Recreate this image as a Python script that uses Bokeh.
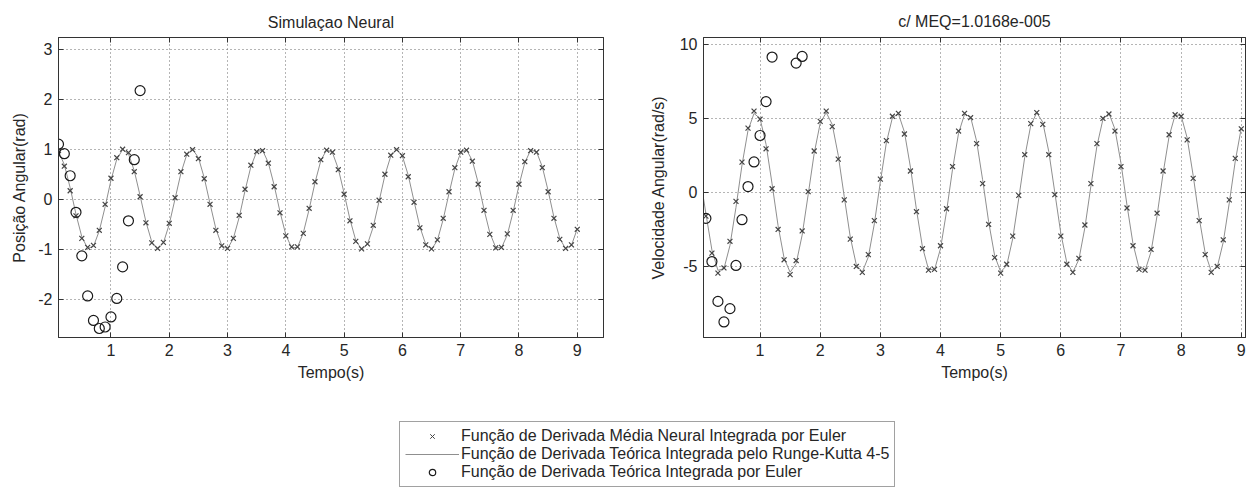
from bokeh.plotting import figure
from bokeh.models import Range1d, FixedTicker, LinearAxis, Legend, LegendItem
from bokeh.layouts import column, row
from bokeh.embed import file_html
from bokeh.resources import INLINE

# ---------------- data ----------------
t = [round(0.1 * i, 1) for i in range(1, 91)]          # sampling instants 0.1 .. 9.0 s
t_rk = [0.06] + t                                      # Runge-Kutta curve starts a bit earlier
t_euler_pos = [0.1, 0.2, 0.3, 0.4, 0.5, 0.6, 0.7, 0.8, 0.9, 1.0, 1.1, 1.2, 1.3, 1.4, 1.5]
t_euler_vel = [0.1, 0.2, 0.3, 0.4, 0.5, 0.6, 0.7, 0.8, 0.9, 1.0, 1.1, 1.2, 1.6, 1.7]

pos_rk = [1.00,
    0.96, 0.69, 0.23, -0.30, -0.75, -0.98, -0.94, -0.63, -0.15, 0.38,
    0.80, 0.99, 0.91, 0.57, 0.07, -0.45, -0.85, -1.00, -0.87, -0.50,
    0.01, 0.52, 0.89, 1.00, 0.83, 0.43, -0.09, -0.59, -0.92, -0.99,
    -0.78, -0.36, 0.17, 0.65, 0.95, 0.98, 0.73, 0.28, -0.25, -0.71,
    -0.97, -0.96, -0.67, -0.20, 0.33, 0.77, 0.99, 0.93, 0.61, 0.12,
    -0.40, -0.82, -1.00, -0.90, -0.55, -0.04, 0.48, 0.86, 1.00, 0.86,
    0.48, -0.04, -0.55, -0.90, -1.00, -0.82, -0.40, 0.12, 0.61, 0.93,
    0.99, 0.77, 0.33, -0.20, -0.67, -0.96, -0.97, -0.71, -0.25, 0.28,
    0.73, 0.98, 0.95, 0.65, 0.17, -0.36, -0.78, -0.99, -0.92, -0.59]

pos_neural = [
    0.97, 0.66, 0.17, -0.33, -0.78, -0.96, -0.92, -0.62, -0.10, 0.42,
    0.83, 1.00, 0.93, 0.55, 0.05, -0.47, -0.87, -0.98, -0.86, -0.48,
    0.03, 0.55, 0.90, 0.99, 0.81, 0.41, -0.10, -0.62, -0.93, -0.98,
    -0.78, -0.32, 0.20, 0.68, 0.95, 0.97, 0.72, 0.25, -0.27, -0.73,
    -0.95, -0.95, -0.68, -0.18, 0.35, 0.79, 0.98, 0.94, 0.59, 0.10,
    -0.43, -0.84, -0.99, -0.89, -0.52, -0.02, 0.50, 0.88, 0.99, 0.87,
    0.45, -0.06, -0.57, -0.91, -0.99, -0.81, -0.38, 0.15, 0.63, 0.94,
    0.98, 0.76, 0.30, -0.22, -0.70, -0.97, -0.96, -0.69, -0.22, 0.30,
    0.75, 0.97, 0.94, 0.63, 0.15, -0.38, -0.80, -0.98, -0.91, -0.60]

pos_euler = [1.10, 0.91, 0.47, -0.26, -1.13, -1.93, -2.42, -2.58, -2.55, -2.35,
             -1.98, -1.35, -0.43, 0.79, 2.17]

vel_rk = [-0.40,
    -1.43, -3.89, -5.26, -5.15, -3.58, -1.01, 1.85, 4.19, 5.34, 5.00,
    3.25, 0.58, -2.25, -4.44, -5.39, -4.81, -2.88, -0.15, 2.64, 4.68,
    5.40, 4.60, 2.51, -0.29, -3.01, -4.88, -5.38, -4.36, -2.12, 0.72,
    3.36, 5.05, 5.32, 4.09, 1.71, -1.15, -3.69, -5.19, -5.23, -3.79,
    -1.29, 1.57, 4.00, 5.29, 5.10, 3.47, 0.86, -1.98, -4.27, -5.36,
    -4.94, -3.13, -0.43, 2.38, 4.53, 5.39, 4.75, 2.76, 0.00, -2.76,
    -4.75, -5.39, -4.53, -2.38, 0.43, 3.13, 4.94, 5.36, 4.27, 1.98,
    -0.86, -3.47, -5.10, -5.29, -4.00, -1.57, 1.29, 3.79, 5.23, 5.19,
    3.69, 1.15, -1.71, -4.09, -5.32, -5.05, -3.36, -0.72, 2.12, 4.36]

vel_neural = [
    -1.60, -4.10, -5.45, -5.10, -3.30, -0.60, 2.05, 4.35, 5.50, 4.95,
    2.95, 0.25, -2.50, -4.55, -5.55, -4.60, -2.60, 0.05, 2.80, 4.80,
    5.50, 4.45, 2.25, -0.50, -3.15, -5.00, -5.40, -4.20, -1.90, 0.90,
    3.50, 5.15, 5.35, 3.95, 1.45, -1.30, -3.80, -5.25, -5.20, -3.60,
    -1.10, 1.75, 4.15, 5.35, 5.05, 3.30, 0.60, -2.15, -4.40, -5.45,
    -4.85, -2.95, -0.20, 2.55, 4.65, 5.40, 4.60, 2.55, -0.15, -2.95,
    -4.85, -5.40, -4.45, -2.20, 0.60, 3.30, 5.00, 5.30, 4.15, 1.75,
    -1.05, -3.60, -5.20, -5.25, -3.85, -1.40, 1.45, 3.90, 5.25, 5.15,
    3.55, 0.95, -1.90, -4.20, -5.40, -5.00, -3.20, -0.50, 2.30, 4.30]

vel_euler = [-1.75, -4.67, -7.36, -8.75, -7.85, -4.93, -1.84, 0.40, 2.06, 3.85,
             6.14, 9.15, 8.74, 9.19]

x_ticks = [1, 2, 3, 4, 5, 6, 7, 8, 9]
pos_ticks = [-2, -1, 0, 1, 2, 3]
pos_tick_labels = ["-2", "-1", "0", "1", "2", "3"]
vel_ticks = [-5, 0, 5, 10]
vel_tick_labels = ["-5", "0", "5", "10"]

title_left = "Simulaçao Neural"
title_right = "c/ MEQ=1.0168e-005"
xlabel = "Tempo(s)"
ylabel_left = "Posição Angular(rad)"
ylabel_right = "Velocidade Angular(rad/s)"
legend_labels = ["Função de Derivada Média Neural Integrada por Euler",
                 "Função de Derivada Teórica Integrada pelo Runge-Kutta 4-5",
                 "Função de Derivada Teórica Integrada por Euler"]

# ---------------- style ----------------
FONT = "Liberation Sans"
FS = "16px"
TXT = "#262626"
AX = "#333333"
GRID = "#6a6a6a"
XMARK = "#454545"
LINEC = "#8f8f8f"


def style_axis(ax, ticks, labels=True, tick_labels=None):
    ax.ticker = FixedTicker(ticks=ticks)
    ax.major_tick_in = 5
    ax.major_tick_out = 0
    ax.minor_tick_line_color = None
    ax.major_tick_line_color = AX
    ax.axis_line_color = AX
    if labels:
        ax.major_label_text_font = FONT
        ax.major_label_text_font_size = FS
        ax.major_label_text_color = TXT
        ax.major_label_standoff = 6
        ax.axis_label_text_font = FONT
        ax.axis_label_text_font_size = FS
        ax.axis_label_text_font_style = "normal"
        ax.axis_label_text_color = TXT
        if tick_labels is not None:
            ax.major_label_overrides = {tk: lb for tk, lb in zip(ticks, tick_labels)}
    else:
        ax.major_label_text_font_size = "0px"
        ax.major_label_text_color = None
        ax.major_label_standoff = 0


def make_panel(width, xr, yr, yticks, ylabels, mbl, mbr, mbt, mbb, title, title_standoff,
               ylabel, ylab_standoff, tx, y_n, t2, y_rk, te, y_e):
    p = figure(width=width, height=387, x_range=Range1d(*xr), y_range=Range1d(*yr),
               output_backend="svg", toolbar_location=None,
               min_border_left=mbl, min_border_right=mbr,
               min_border_top=mbt, min_border_bottom=mbb)
    p.background_fill_color = "white"
    p.border_fill_color = "white"
    p.outline_line_color = AX
    p.title.text = title
    p.title.align = "center"
    p.title.text_font = FONT
    p.title.text_font_size = FS
    p.title.text_font_style = "normal"
    p.title.text_color = TXT
    p.title.standoff = title_standoff

    style_axis(p.xaxis[0], x_ticks)
    style_axis(p.yaxis[0], yticks, tick_labels=ylabels)
    p.xaxis[0].axis_label = xlabel
    p.xaxis[0].axis_label_standoff = 5
    p.yaxis[0].axis_label = ylabel
    p.yaxis[0].axis_label_standoff = ylab_standoff

    top = LinearAxis()
    style_axis(top, x_ticks, labels=False)
    p.add_layout(top, "above")
    right = LinearAxis()
    style_axis(right, yticks, labels=False)
    p.add_layout(right, "right")

    p.xgrid.ticker = FixedTicker(ticks=x_ticks)
    p.ygrid.ticker = FixedTicker(ticks=yticks)
    for g in (p.xgrid[0], p.ygrid[0]):
        g.grid_line_color = GRID
        g.grid_line_dash = "1 3"
        g.grid_line_width = 1

    p.line(t2, y_rk, line_color=LINEC, line_width=1)
    p.scatter(tx, y_n, marker="x", size=7, line_color=XMARK, line_width=1.2)
    p.scatter(te, y_e, marker="circle", size=10, fill_color=None,
              line_color="#1a1a1a", line_width=1.2)
    return p


p1 = make_panel(640, (0.1, 9.45), (-2.76, 3.23), pos_ticks, pos_tick_labels, 58, 37, 35, 50,
                title_left, 13, ylabel_left, 7,
                t, pos_neural, t_rk, pos_rk, t_euler_pos, pos_euler)
p2 = make_panel(614, (0.06, 9.07), (-9.8, 10.47), vel_ticks, vel_tick_labels, 63, 9, 37, 48,
                title_right, 15, ylabel_right, 10,
                t, vel_neural, t_rk, vel_rk, t_euler_vel, vel_euler)

# ---------------- legend panel ----------------
pl = figure(width=900, height=108, x_range=Range1d(1000, 1001), y_range=Range1d(1000, 1001),
            output_backend="svg", toolbar_location=None,
            x_axis_location=None, y_axis_location=None, min_border=0)
pl.grid.visible = False
pl.outline_line_color = None
pl.background_fill_color = "white"
pl.border_fill_color = "white"
r1 = pl.scatter(t, pos_neural, marker="x", size=6, line_color=XMARK, line_width=1)
r2 = pl.line(t_rk, pos_rk, line_color=LINEC, line_width=1)
r3 = pl.scatter(t_euler_pos, pos_euler, marker="circle", size=8, fill_color=None,
                line_color="#1a1a1a", line_width=1.2)
leg = Legend(items=[LegendItem(label=legend_labels[0], renderers=[r1]),
                    LegendItem(label=legend_labels[1], renderers=[r2]),
                    LegendItem(label=legend_labels[2], renderers=[r3])],
             location=(399, 8))
leg.label_text_font = FONT
leg.label_text_font_size = FS
leg.label_text_color = TXT
leg.label_height = 16
leg.glyph_height = 16
leg.glyph_width = 54
leg.label_standoff = 2
leg.padding = 5
leg.spacing = -1
leg.margin = 0
leg.border_line_color = "#444444"
leg.border_line_width = 1
leg.background_fill_color = "white"
leg.background_fill_alpha = 1
pl.add_layout(leg, "center")

layout = column(row(p1, p2), pl)
open("out.html", "w").write(file_html(layout, INLINE))
